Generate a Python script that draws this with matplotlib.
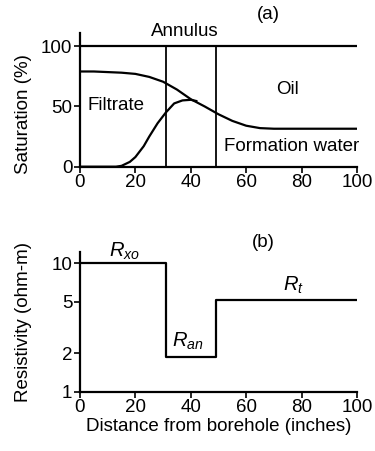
import matplotlib
matplotlib.use("Agg")
import matplotlib.pyplot as plt

plt.rcParams['font.family'] = ['Liberation Sans', 'DejaVu Sans']
plt.rcParams['mathtext.fontset'] = 'custom'
plt.rcParams['mathtext.it'] = 'Liberation Sans:italic'
plt.rcParams['mathtext.rm'] = 'Liberation Sans'

# Panel (a): saturation profiles
dist_sw = [0, 5, 10, 15, 20, 25, 30, 35, 40, 45, 50, 55, 60, 65, 70, 80, 90, 100]
sw_total = [79, 79, 78.5, 78, 77, 74.5, 70.5, 64, 56, 50, 43.5, 38, 34, 32, 31.5, 31.5, 31.5, 31.5]
dist_fw = [0, 13, 15, 18, 20, 23, 25, 28, 31, 34, 37, 40, 42]
sw_formation = [0, 0, 0.7, 4, 8, 17, 25, 36, 45, 52.5, 55, 55.5, 54.5]
total_line_x = [0, 100]
total_line_y = [100, 100]
annulus_bounds = [31, 49]

# Panel (b): resistivity step profile
res_x = [0, 31, 31, 49, 49, 100]
res_y = [10, 10, 1.85, 1.85, 5.15, 5.15]
x_ticks = [0, 20, 40, 60, 80, 100]
sat_ticks = [0, 50, 100]
res_ticks = [1, 2, 5, 10]

fig = plt.figure(figsize=(3.75, 4.51), dpi=100)
lw = 1.6
fs = 13.5

ax1 = fig.add_axes([0.2133, 0.6304, 0.7387, 0.2966])
ax1.plot(total_line_x, total_line_y, color='black', lw=lw)
ax1.plot(dist_sw, sw_total, color='black', lw=lw)
ax1.plot(dist_fw, sw_formation, color='black', lw=lw)
for xb in annulus_bounds:
    ax1.plot([xb, xb], [0, 100], color='black', lw=lw * 0.8)
ax1.set_xlim(0, 100)
ax1.set_ylim(0, 111)
ax1.set_xticks(x_ticks)
ax1.set_yticks(sat_ticks)
ax1.set_ylabel('Saturation (%)', fontsize=fs)
ax1.yaxis.set_label_coords(-0.173, 0.394)
ax1.text(38, 112, 'Annulus', ha='center', va='center', fontsize=fs)
ax1.text(68, 126, '(a)', ha='center', va='center', fontsize=fs, clip_on=False)
ax1.text(13, 51, 'Filtrate', ha='center', va='center', fontsize=fs)
ax1.text(75, 64, 'Oil', ha='center', va='center', fontsize=fs)
ax1.text(76.5, 16.5, 'Formation water', ha='center', va='center', fontsize=fs)

ax2 = fig.add_axes([0.2133, 0.1315, 0.7387, 0.3105])
ax2.plot(res_x, res_y, color='black', lw=lw)
ax2.set_yscale('log')
ax2.set_xlim(0, 100)
ax2.set_ylim(1, 12.3)
ax2.set_xticks(x_ticks)
ax2.set_yticks(res_ticks)
ax2.set_yticklabels([str(t) for t in res_ticks])
ax2.minorticks_off()
ax2.set_ylabel('Resistivity (ohm-m)', fontsize=fs)
ax2.yaxis.set_label_coords(-0.173, 0.498)
ax2.set_xlabel('Distance from borehole (inches)', fontsize=fs, labelpad=1)
ax2.text(66, 14.4, '(b)', ha='center', va='center', fontsize=fs, clip_on=False)
ax2.text(16, 12.3, r'$R_{xo}$', ha='center', va='center', fontsize=fs + 1)
ax2.text(39, 2.45, r'$R_{an}$', ha='center', va='center', fontsize=fs + 1)
ax2.text(77, 6.7, r'$R_{t}$', ha='center', va='center', fontsize=fs + 1)

for ax in (ax1, ax2):
    for s in ('top', 'right'):
        ax.spines[s].set_visible(False)
    for s in ('left', 'bottom'):
        ax.spines[s].set_linewidth(lw)
    ax.tick_params(direction='out', length=4, width=1.2, labelsize=fs, pad=1.5)

fig.savefig('out.png', dpi=100)
